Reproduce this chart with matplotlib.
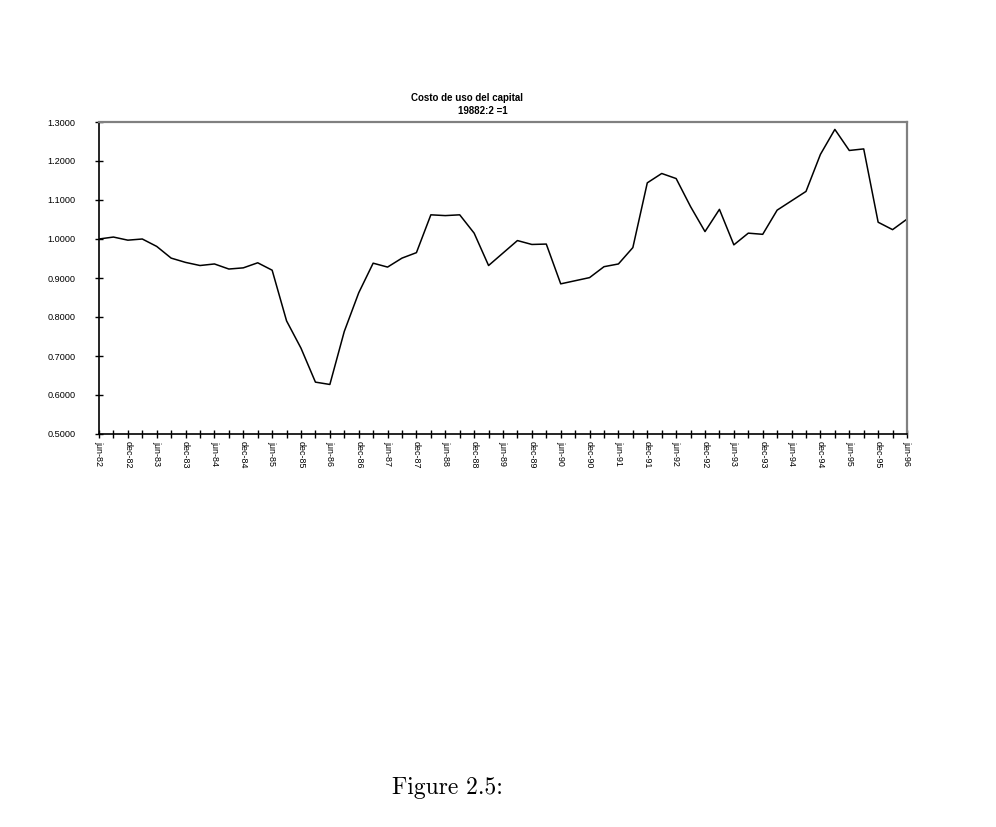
import matplotlib
matplotlib.use('Agg')
import matplotlib.pyplot as plt
import numpy as np

# quarterly series, jun-82 .. jun-96
values = [1.000, 1.005, 0.997, 1.000, 0.981, 0.951, 0.940, 0.932, 0.936, 0.923,
          0.926, 0.939, 0.920, 0.790, 0.720, 0.633, 0.627, 0.763, 0.862, 0.938,
          0.928, 0.951, 0.965, 1.062, 1.060, 1.062, 1.015, 0.932, 0.964, 0.996,
          0.986, 0.987, 0.885, 0.893, 0.901, 0.929, 0.936, 0.978, 1.144, 1.168,
          1.155, 1.083, 1.019, 1.076, 0.985, 1.015, 1.012, 1.074, 1.098, 1.122,
          1.217, 1.281, 1.227, 1.231, 1.043, 1.024, 1.051]
years = list(range(82, 97))
tick_labels = []
for yy in years:
    tick_labels.append('jun-%02d' % yy)
    if yy < 96:
        tick_labels.append('dec-%02d' % yy)
yticks = [0.5, 0.6, 0.7, 0.8, 0.9, 1.0, 1.1, 1.2, 1.3]

fig = plt.figure(figsize=(9.96, 8.27), dpi=100)
ax = fig.add_axes([99/996, 1 - 434/827, (907 - 99)/996, (434 - 122)/827])

x = np.arange(len(values))
ax.plot(x, values, color='black', linewidth=1.1)

ax.set_xlim(0, len(values) - 1)
ax.set_ylim(0.5, 1.3)
ax.set_yticks(yticks)
ax.set_yticklabels(['%.4f' % v for v in yticks], fontsize=6.6, family='Liberation Sans')
ax.set_xticks(x)
ax.set_xticklabels([tick_labels[i // 2] if i % 2 == 0 else '' for i in x],
                   rotation=270, fontsize=6.4, family='Liberation Sans')
ax.tick_params(axis='both', direction='inout', length=6, width=1, color='black')
ax.tick_params(axis='y', pad=14)
ax.tick_params(axis='x', pad=2)

for side in ['left', 'bottom']:
    ax.spines[side].set_color('black')
    ax.spines[side].set_linewidth(1.2)
for side in ['top', 'right']:
    ax.spines[side].set_color('#808080')
    ax.spines[side].set_linewidth(1.6)

fig.text(467/996, 1 - 98/827, 'Costo de uso del capital', ha='center', va='center',
         fontsize=7, fontweight='bold', family='Liberation Sans')
fig.text(483/996, 1 - 111/827, '19882:2 =1', ha='center', va='center',
         fontsize=7, fontweight='bold', family='Liberation Sans')

fig.text(447/996, 1 - 788/827, 'Figure 2.5:', ha='center', va='center',
         fontsize=17, family='cmr10')

fig.savefig('out.png', dpi=100)
